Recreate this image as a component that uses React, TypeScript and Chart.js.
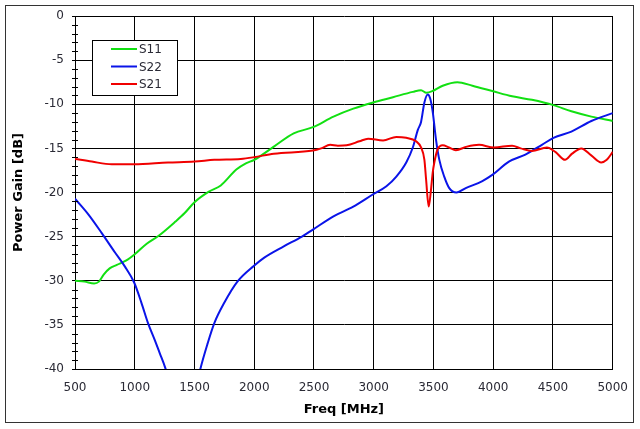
import React, { useEffect, useRef } from "react";
import { Chart, registerables } from "chart.js";

Chart.register(...registerables);

// S11 return loss sweep
const s11Freq = [500, 580, 660, 700, 740, 790, 850, 930, 1000, 1100, 1200, 1340, 1420, 1500, 1620, 1720, 1850, 1930, 2000, 2164, 2330, 2491, 2663, 2829, 2995, 3161, 3327, 3396, 3440, 3493, 3577, 3700, 3826, 3992, 4158, 4324, 4504, 4654, 4821, 5000];
const s11Gain = [-30.0, -30.1, -30.3, -30.1, -29.3, -28.6, -28.2, -27.7, -27.0, -25.8, -24.9, -23.3, -22.3, -21.1, -19.9, -19.2, -17.4, -16.7, -16.3, -14.8, -13.3, -12.6, -11.4, -10.5, -9.8, -9.2, -8.6, -8.4, -8.7, -8.5, -7.9, -7.5, -7.9, -8.5, -9.1, -9.5, -10.1, -10.8, -11.4, -11.9];

// S22 output match sweep
const s22Freq = [500, 613, 724, 835, 918, 995, 1056, 1111, 1167, 1209, 1256, 1300, 1350, 1400, 1450, 1500, 1549, 1610, 1666, 1749, 1859, 1998, 2081, 2247, 2399, 2491, 2663, 2829, 2995, 3106, 3189, 3272, 3327, 3369, 3396, 3424, 3452, 3471, 3493, 3521, 3549, 3590, 3632, 3693, 3770, 3909, 3992, 4131, 4269, 4407, 4504, 4654, 4821, 5000];
const s22Gain = [-20.7, -22.5, -24.6, -26.8, -28.4, -30.2, -32.5, -34.8, -36.7, -38.2, -39.9, -42.0, -45.0, -47.0, -46.0, -43.0, -40.0, -37.1, -34.8, -32.5, -30.1, -28.3, -27.4, -26.1, -25.0, -24.2, -22.7, -21.6, -20.2, -19.3, -18.2, -16.6, -14.9, -12.9, -12.0, -9.8, -8.9, -9.3, -10.8, -14.0, -16.3, -18.2, -19.5, -20.0, -19.5, -18.7, -18.0, -16.5, -15.7, -14.6, -13.8, -13.1, -11.9, -11.0];

// S21 transmission sweep
const s21Freq = [500, 641, 807, 995, 1278, 1500, 1666, 1887, 1998, 2164, 2491, 2560, 2635, 2700, 2773, 2880, 2953, 3078, 3189, 3272, 3355, 3396, 3424, 3438, 3460, 3479, 3493, 3507, 3535, 3577, 3630, 3687, 3780, 3881, 4006, 4158, 4230, 4324, 4449, 4520, 4601, 4660, 4737, 4820, 4904, 4950, 5000];
const s21Gain = [-16.2, -16.5, -16.8, -16.8, -16.6, -16.5, -16.3, -16.2, -16.0, -15.6, -15.25, -15.0, -14.6, -14.7, -14.65, -14.2, -13.9, -14.1, -13.7, -13.8, -14.2, -14.9, -16.3, -18.5, -21.6, -19.7, -17.8, -16.6, -15.1, -14.65, -14.9, -15.2, -14.8, -14.6, -14.9, -14.7, -15.0, -15.3, -14.9, -15.4, -16.3, -15.6, -15.0, -15.8, -16.6, -16.3, -15.4];

const seriesNames = ["S11", "S22", "S21"];
const seriesColors = ["#12e012", "#0a14e8", "#f00000"];

const xTicks = [500, 1000, 1500, 2000, 2500, 3000, 3500, 4000, 4500, 5000];
const yMajorTicks = [0, -5, -10, -15, -20, -25, -30, -35, -40];

const FONT = "'DejaVu Sans', Verdana, sans-serif";
const TEXT = "#2a2a35";

const toPoints = (xs: number[], ys: number[]) => xs.map((x, i) => ({ x, y: ys[i] }));

const framePlugin = {
  id: "frame",
  afterDraw(chart: any) {
    const { ctx, chartArea, scales } = chart;
    const y = scales.y;
    ctx.save();
    // outer panel border
    ctx.strokeStyle = "#333";
    ctx.lineWidth = 1;
    ctx.strokeRect(5.5, 5.5, 628, 417);

    // minor ticks on the value axis
    ctx.strokeStyle = "#000";
    ctx.beginPath();
    for (let v = -39; v <= -1; v++) {
      if (v % 5 === 0) continue;
      const py = Math.round(y.getPixelForValue(v)) + 0.5;
      ctx.moveTo(chartArea.left - 3, py);
      ctx.lineTo(chartArea.left + 3, py);
    }
    ctx.stroke();

    // legend box
    const bx = 92, by = 40, bw = 85, bh = 55;
    ctx.fillStyle = "#fff";
    ctx.fillRect(bx, by, bw, bh);
    ctx.strokeStyle = "#000";
    ctx.strokeRect(bx + 0.5, by + 0.5, bw, bh);
    ctx.font = `12px ${FONT}`;
    ctx.textBaseline = "middle";
    ctx.textAlign = "left";
    chart.data.datasets.forEach((ds: any, i: number) => {
      const ry = 49 + i * 17.5;
      ctx.strokeStyle = ds.borderColor;
      ctx.lineWidth = 2;
      ctx.beginPath();
      ctx.moveTo(111, ry);
      ctx.lineTo(137, ry);
      ctx.stroke();
      ctx.fillStyle = TEXT;
      ctx.fillText(ds.label, 139, ry + 1);
    });
    ctx.restore();
  },
};

export default function App() {
  const canvasRef = useRef<HTMLCanvasElement | null>(null);

  useEffect(() => {
    const canvas = canvasRef.current;
    if (!canvas) return;
    const datasets = [
      { label: seriesNames[0], data: toPoints(s11Freq, s11Gain), borderColor: seriesColors[0], order: 2 },
      { label: seriesNames[1], data: toPoints(s22Freq, s22Gain), borderColor: seriesColors[1], order: 1 },
      { label: seriesNames[2], data: toPoints(s21Freq, s21Gain), borderColor: seriesColors[2], order: 0 },
    ].map((d) => ({
      ...d,
      backgroundColor: d.borderColor,
      borderWidth: 2,
      pointRadius: 0,
      fill: false,
      cubicInterpolationMode: "monotone" as const,
    }));

    const chart = new Chart(canvas, {
      type: "line",
      data: { datasets },
      options: {
        responsive: false,
        animation: false,
        devicePixelRatio: 1,
        layout: { padding: { left: 0, right: 24, top: 16, bottom: 0 } },
        plugins: { legend: { display: false }, tooltip: { enabled: false } },
        scales: {
          x: {
            type: "linear",
            min: 500,
            max: 5000,
            afterBuildTicks: (scale: any) => {
              scale.ticks = xTicks.map((value) => ({ value }));
            },
            afterFit: (scale: any) => {
              scale.height = 60;
            },
            grid: { color: "#000", lineWidth: 1, drawTicks: false },
            border: { color: "#000", width: 1 },
            ticks: {
              padding: 12,
              maxRotation: 0,
              autoSkip: false,
              color: TEXT,
              font: { family: FONT, size: 12 },
              callback: (v: any) => String(v),
            },
            title: {
              display: true,
              text: "Freq [MHz]",
              color: "#000",
              padding: { top: 0, bottom: 12 },
              font: { family: FONT, size: 13, weight: "bold" },
            },
          },
          y: {
            type: "linear",
            min: -40,
            max: 0,
            afterBuildTicks: (scale: any) => {
              scale.ticks = yMajorTicks.map((value) => ({ value }));
            },
            afterFit: (scale: any) => {
              scale.width = 75;
            },
            grid: { color: "#000", lineWidth: 1, tickLength: 3, tickColor: "#000" },
            border: { color: "#000", width: 1 },
            ticks: {
              padding: 8,
              autoSkip: false,
              color: TEXT,
              font: { family: FONT, size: 12 },
              callback: (v: any) => String(v),
            },
            title: {
              display: true,
              text: "Power Gain [dB]",
              color: "#000",
              padding: { top: 11, bottom: 0 },
              font: { family: FONT, size: 13, weight: "bold" },
            },
          },
        },
      },
      plugins: [framePlugin],
    } as any);

    return () => chart.destroy();
  }, []);

  return (
    <div style={{ position: "fixed", left: 0, top: 0, width: 640, height: 429, background: "#fff" }}>
      <canvas ref={canvasRef} width={640} height={429} style={{ width: 640, height: 429, display: "block" }} />
    </div>
  );
}
